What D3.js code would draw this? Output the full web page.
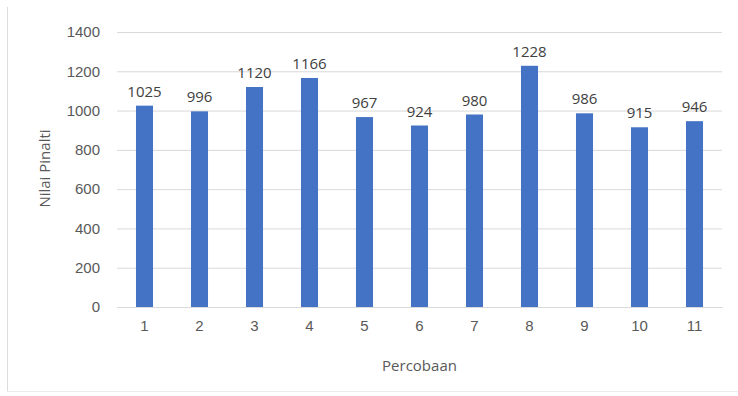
<!DOCTYPE html>
<html>
<head>
<meta charset="utf-8">
<script src="https://cdn.jsdelivr.net/npm/d3@7"></script>
<style>
  body { margin: 0; background: #fff; }
  svg { display: block; font-family: "Open Sans", "Liberation Sans", sans-serif; }
</style>
</head>
<body>
<svg id="chart" width="738" height="396"></svg>
<script>
// Penalty value per trial
const categories = ["1", "2", "3", "4", "5", "6", "7", "8", "9", "10", "11"];
const values = [1025, 996, 1120, 1166, 967, 924, 980, 1228, 986, 915, 946];
const yTicks = [0, 200, 400, 600, 800, 1000, 1200, 1400];

const svg = d3.select("#chart");
const W = 738, H = 396;
const margin = { left: 117, right: 16, top: 32, bottom: 89 };
const innerW = W - margin.left - margin.right;
const innerH = H - margin.top - margin.bottom;

// Chart frame: left and bottom edges only
svg.append("line").attr("x1", 7.5).attr("x2", 7.5).attr("y1", 7).attr("y2", 392)
  .attr("stroke", "#dcdcdc");
svg.append("line").attr("x1", 7).attr("x2", W).attr("y1", 391.5).attr("y2", 391.5)
  .attr("stroke", "#ececec");

const g = svg.append("g").attr("transform", `translate(${margin.left},${margin.top})`);

const x = d3.scaleBand().domain(categories).range([0, innerW]).paddingInner(0.69).paddingOuter(0.345);
const y = d3.scaleLinear().domain([0, 1400]).range([innerH, 0]);

// Gridlines and y labels
const yAxis = d3.axisLeft(y).tickValues(yTicks).tickFormat(d3.format("d")).tickSize(-innerW).tickPadding(17);
const ya = g.append("g").call(yAxis);
ya.select(".domain").remove();
ya.selectAll(".tick line").attr("stroke", "#d9d9d9");
ya.selectAll(".tick text").attr("fill", "#595959").style("font-size", "15px");

// Bars
g.selectAll("rect.bar").data(values).join("rect")
  .attr("class", "bar")
  .attr("x", (d, i) => x(categories[i]))
  .attr("y", d => y(d))
  .attr("width", x.bandwidth())
  .attr("height", d => innerH - y(d))
  .attr("fill", "#4472c4");

// Value labels
g.selectAll("text.val").data(values).join("text")
  .attr("class", "val")
  .attr("x", (d, i) => x(categories[i]) + x.bandwidth() / 2)
  .attr("y", d => y(d) - 9)
  .attr("text-anchor", "middle")
  .attr("fill", "#404040")
  .style("font-size", "15px")
  .text(d => d);

// X axis
const xa = g.append("g").attr("transform", `translate(0,${innerH})`)
  .call(d3.axisBottom(x).tickSize(0).tickPadding(13));
xa.select(".domain").attr("stroke", "#d9d9d9");
xa.selectAll(".tick text").attr("fill", "#595959").style("font-size", "15px");

// Axis titles
svg.append("text")
  .attr("x", margin.left + innerW / 2).attr("y", 371)
  .attr("text-anchor", "middle").attr("fill", "#595959")
  .style("font-size", "15px").text("Percobaan");

svg.append("text")
  .attr("transform", `translate(50,${margin.top + innerH / 2 - 1}) rotate(-90)`)
  .attr("text-anchor", "middle").attr("fill", "#595959")
  .style("font-size", "15px").text("Nilai Pinalti");
</script>
</body>
</html>
